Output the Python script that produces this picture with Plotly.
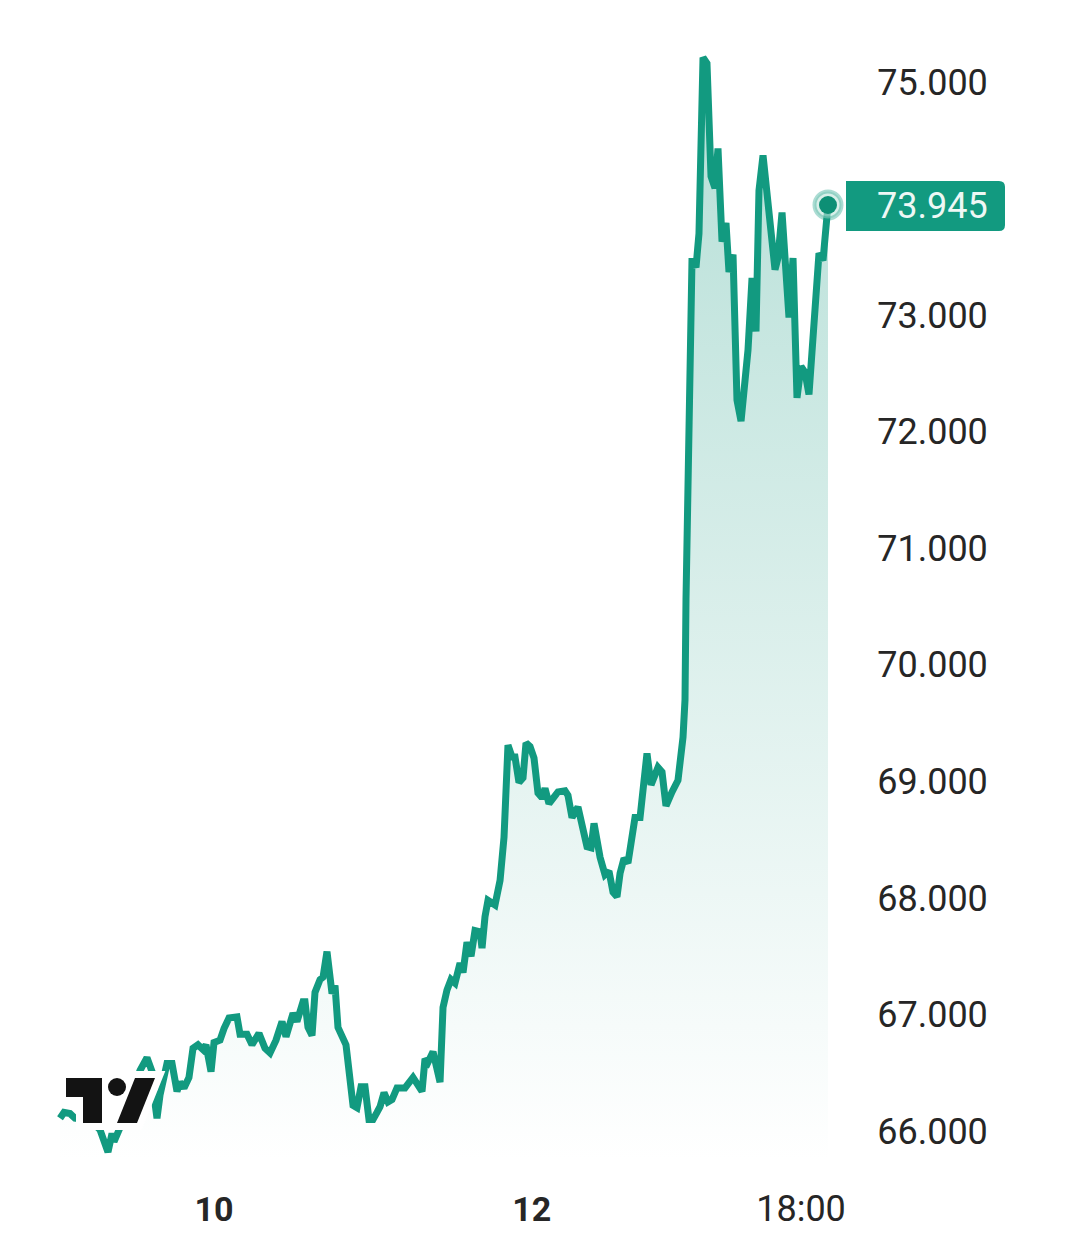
import plotly.graph_objects as go

# hours counted from the 9th at 00:00
horas = [0.76, 1.36, 2.27, 3.02, 4.53, 5.59, 6.80, 8.00, 8.61, 8.91, 9.82, 11.02, 12.08, 12.84, 13.89, 14.65,
         15.10, 15.40, 15.86, 16.61, 16.91, 17.67, 18.42, 18.88, 19.48, 20.23, 20.84, 21.59, 22.35, 22.80,
         23.56, 24.01, 24.92, 25.52, 26.27, 27.48, 27.94, 28.99, 29.75, 30.80, 31.71, 32.47, 33.37, 34.28,
         34.88, 35.94, 36.54, 37.45, 37.75, 38.20, 38.81, 39.26, 40.02, 40.47, 41.07, 41.83, 42.28, 42.73,
         43.94, 45.00, 45.60, 46.21, 46.81, 47.41, 48.02, 48.62, 49.08, 49.68, 50.28, 50.89, 51.64, 52.85,
         54.06, 55.42, 55.87, 56.32, 57.08, 58.14, 58.59, 59.19, 59.80, 60.40, 61.16, 61.61, 62.21, 62.82,
         63.42, 64.18, 64.48, 64.93, 65.38, 66.44, 67.20, 67.80, 68.40, 69.01, 69.46, 70.06, 70.67, 71.12,
         71.73, 72.33, 72.93, 73.54, 73.99, 74.59, 75.95, 77.01, 77.46, 78.07, 78.97, 80.33, 80.94, 81.39,
         82.30, 83.05, 83.65, 84.26, 84.86, 85.32, 85.92, 86.52, 87.13, 87.58, 88.34, 89.39, 90.00, 91.05,
         91.66, 92.26, 93.17, 94.07, 94.83, 95.13, 95.28, 95.73, 96.19, 96.79, 97.24, 97.85, 98.45, 99.06,
         99.66, 100.11, 100.72, 101.32, 101.77, 102.38, 102.98, 103.59, 104.64, 105.25, 105.85, 106.30,
         106.91, 108.72, 109.17, 109.78, 110.83, 111.44, 112.04, 112.65, 113.25, 113.85, 114.46, 115.36,
         115.97, 116.72]

precios = [66110, 66160, 66150, 66110, 66100, 66080, 66010, 65820, 65980, 65910, 66030, 66270, 66400, 66520,
           66630, 66510, 66240, 66110, 66310, 66480, 66580, 66580, 66340, 66420, 66370, 66460, 66710, 66740,
           66700, 66740, 66510, 66760, 66780, 66880, 66970, 66980, 66830, 66830, 66740, 66840, 66710, 66670,
           66780, 66940, 66810, 67010, 66940, 67110, 67110, 66890, 66820, 67190, 67300, 67320, 67540, 67180,
           67250, 66890, 66740, 66220, 66200, 66380, 66380, 66100, 66100, 66160, 66210, 66330, 66250, 66270,
           66370, 66370, 66460, 66340, 66620, 66590, 66680, 66420, 67060, 67210, 67300, 67270, 67440, 67360,
           67620, 67500, 67720, 67710, 67570, 67840, 67980, 67940, 68150, 68520, 69310, 69210, 69210, 68990,
           69030, 69330, 69300, 69200, 68900, 68860, 68940, 68810, 68910, 68920, 68880, 68690, 68780, 68440,
           68430, 68640, 68350, 68200, 68230, 68050, 68010, 68210, 68340, 68300, 68570, 68690, 68690, 69240,
           68970, 69120, 69080, 68790, 68910, 69010, 69380, 69700, 70560, 72010, 73490, 73410, 73700, 75210,
           75160, 74190, 74090, 74430, 73630, 73790, 73370, 73520, 72270, 72090, 72700, 73320, 72860, 74070,
           74370, 73390, 73490, 73880, 72980, 73490, 72290, 72560, 72510, 72320, 72760, 73530, 73470, 73945]

ticks_x = [24, 72, 112.65]
etiquetas_x = ['<span style="font-size:34px"><b>10</b></span>', '<span style="font-size:34px"><b>12</b></span>', '18:00']
ticks_y = [66000, 67000, 68000, 69000, 70000, 71000, 72000, 73000, 75000]
etiquetas_y = ['66.000', '67.000', '68.000', '69.000', '70.000', '71.000', '72.000', '73.000', '75.000']

VERDE = '#129a80'
TEXTO = '#262626'

# page body adds 8px around the figure
PAD = 8
ANCHO, ALTO = 1080 - 2 * PAD, 1258 - 2 * PAD
IZQ, DER, ARR, ABA = 55 - PAD, 846 - PAD, 20 - PAD, 1172 - PAD


def px(x):
    return (x - PAD - IZQ) / (DER - IZQ)


def py(y):
    return 1 - (y - PAD - ARR) / (ABA - ARR)


def ruta(puntos):
    return 'M ' + ' L '.join(f'{px(a)} {py(b)}' for a, b in puntos) + ' Z'


# TradingView logo
logo_t = ruta([(66, 1078), (102, 1078), (102, 1123), (83, 1123), (83, 1097), (66, 1097)])
logo_barra = ruta([(135, 1078), (155, 1078), (137, 1123), (117, 1123)])

formas = []
for ancho_linea, color in [(14, 'white'), (0, '#131313')]:
    linea = dict(width=ancho_linea, color='white')
    formas.append(dict(type='path', path=logo_t, xref='paper', yref='paper', fillcolor=color, line=linea))
    formas.append(dict(type='path', path=logo_barra, xref='paper', yref='paper', fillcolor=color, line=linea))
    formas.append(dict(type='circle', xref='paper', yref='paper', x0=px(108), x1=px(126), y0=py(1096), y1=py(1078),
                       fillcolor=color, line=linea))

# last price box, rounded on the right
formas.append(dict(type='path', xref='paper', yref='paper', fillcolor=VERDE, line=dict(width=0),
                   path=f'M {px(846)} {py(181)} L {px(999)} {py(181)} Q {px(1005)} {py(181)} {px(1005)} {py(187)} '
                        f'L {px(1005)} {py(225)} Q {px(1005)} {py(231)} {px(999)} {py(231)} L {px(846)} {py(231)} Z'))

fig = go.Figure()
fig.add_trace(go.Scatter(
    x=horas, y=precios, mode='lines', line=dict(color=VERDE, width=7),
    fill='tozeroy',
    fillgradient=dict(type='vertical', start=65750, stop=75000,
                      colorscale=[[0, 'rgba(255,255,255,1)'], [1, '#b6dfd7']]),
    hoverinfo='skip', showlegend=False
))
fig.add_trace(go.Scatter(
    x=horas[-1:], y=precios[-1:], mode='markers',
    marker=dict(size=27, color='rgba(190,228,219,0.6)', line=dict(color='rgba(18,154,128,0.35)', width=4)),
    hoverinfo='skip', showlegend=False, cliponaxis=False
))
fig.add_trace(go.Scatter(
    x=horas[-1:], y=precios[-1:], mode='markers',
    marker=dict(size=18, color='#0d8f75'),
    hoverinfo='skip', showlegend=False, cliponaxis=False
))

fig.add_annotation(
    x=px(875), xref='paper', xanchor='left', y=precios[-1], yref='y', yshift=-1, showarrow=False,
    text=f'{precios[-1]:,}'.replace(',', '.'), font=dict(family='Roboto', size=36, color='#eef8f5')
)

fig.update_layout(
    width=ANCHO, height=ALTO,
    margin=dict(l=IZQ, r=ANCHO - DER, t=ARR, b=ALTO - ABA, autoexpand=False),
    plot_bgcolor='white', paper_bgcolor='white',
    shapes=formas,
    xaxis=dict(range=[0, 119.44], tickmode='array', tickvals=ticks_x, ticktext=etiquetas_x,
               showgrid=False, zeroline=False, showline=False, ticks='outside', ticklen=5,
               tickcolor='rgba(0,0,0,0)', tickangle=0, tickfont=dict(family='Roboto', size=36, color=TEXTO)),
    yaxis=dict(range=[65649, 75532], side='right', tickmode='array', tickvals=ticks_y, ticktext=etiquetas_y,
               showgrid=False, zeroline=False, showline=False, ticks='outside', ticklen=23,
               tickcolor='rgba(0,0,0,0)', tickfont=dict(family='Roboto', size=36, color=TEXTO))
)

fig.write_html("out.html")
